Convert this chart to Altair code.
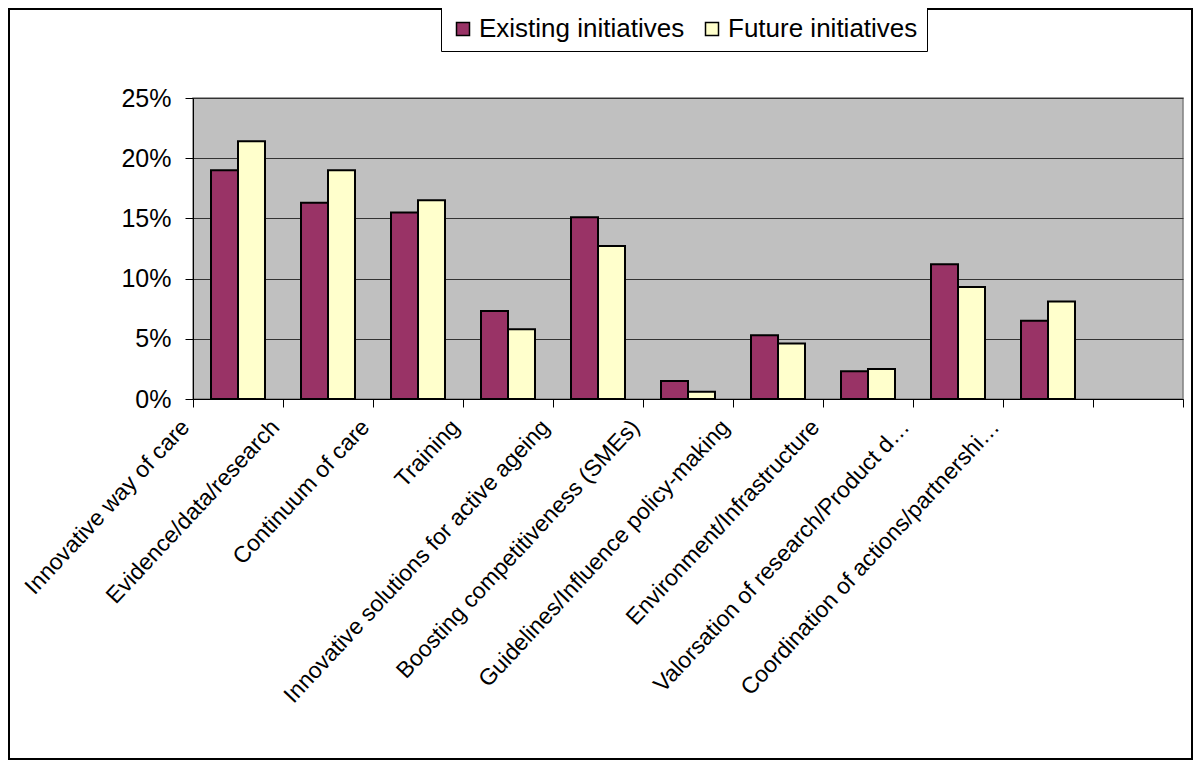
import altair as alt
import pandas as pd

categories = [
    "Innovative way of care",
    "Evidence/data/research",
    "Continuum of care",
    "Training",
    "Innovative solutions for active ageing",
    "Boosting competitiveness (SMEs)",
    "Guidelines/Influence policy-making",
    "Environment/Infrastructure",
    "Valorsation of research/Product d…",
    "Coordination of actions/partnershi…",
    " ",
]
existing = [0.190, 0.163, 0.155, 0.073, 0.151, 0.015, 0.053, 0.023, 0.112, 0.065]
future = [0.214, 0.190, 0.165, 0.058, 0.127, 0.006, 0.046, 0.025, 0.093, 0.081]
series = ["Existing initiatives", "Future initiatives"]
colors = ["#993366", "#FFFFCC"]

rows = []
for c, v in zip(categories, existing):
    rows.append({"category": c, "series": series[0], "value": v})
for c, v in zip(categories, future):
    rows.append({"category": c, "series": series[1], "value": v})
df = pd.DataFrame(rows)

FONT = "Liberation Sans"

bars = alt.Chart(df).mark_bar(stroke="black", strokeWidth=2).encode(
    x=alt.X(
        "category:N",
        sort=categories,
        scale=alt.Scale(domain=categories, paddingInner=0, paddingOuter=0),
        axis=alt.Axis(
            title=None,
            labelAngle=-47,
            tickBand="extent",
            labelFontSize=23,
            labelFont=FONT,
            labelColor="black",
            labelLimit=600,
            tickSize=8,
            tickColor="black",
            domainColor="black",
            labelPadding=16,
            labelOffset=-53,
        ),
    ),
    xOffset=alt.XOffset(
        "series:N",
        sort=series,
        scale=alt.Scale(domain=series, paddingInner=0, paddingOuter=0.667),
    ),
    y=alt.Y(
        "value:Q",
        scale=alt.Scale(domain=[0, 0.25], nice=False),
        axis=alt.Axis(
            title=None,
            format=".0%",
            values=[0, 0.05, 0.10, 0.15, 0.20, 0.25],
            labelFontSize=25,
            labelFont=FONT,
            labelColor="black",
            tickSize=8,
            tickColor="black",
            domainColor="black",
            gridColor="#333333",
            gridWidth=1,
            labelPadding=14,
        ),
    ),
    color=alt.Color(
        "series:N",
        sort=series,
        scale=alt.Scale(domain=series, range=colors),
        legend=alt.Legend(
            title=None,
            orient="none",
            legendX=248,
            legendY=-91,
            direction="horizontal",
            strokeColor="black",
            fillColor="white",
            padding=9,
            symbolType="square",
            symbolSize=169,
            symbolStrokeColor="black",
            symbolStrokeWidth=1.5,
            labelFontSize=26,
            labelFont=FONT,
            labelColor="black",
            labelLimit=600,
            columnPadding=14,
            labelOffset=3,
        ),
    ),
)

frame = alt.Chart(pd.DataFrame({"a": [0]})).mark_rect(
    fill=None, stroke="black", strokeWidth=2
).encode(
    x=alt.value(-184), x2=alt.value(999), y=alt.value(-89), y2=alt.value(661)
)

chart = alt.layer(bars, frame).properties(
    width=990,
    height=301,
    background="white",
    autosize=alt.AutoSizeParams(type="none"),
    padding={"left": 185, "top": 90, "right": 10, "bottom": 363},
).configure_view(
    fill="#C0C0C0", stroke="#808080", strokeWidth=1.5
)

chart.save("out.html", embed_options={"renderer": "svg", "actions": False})
